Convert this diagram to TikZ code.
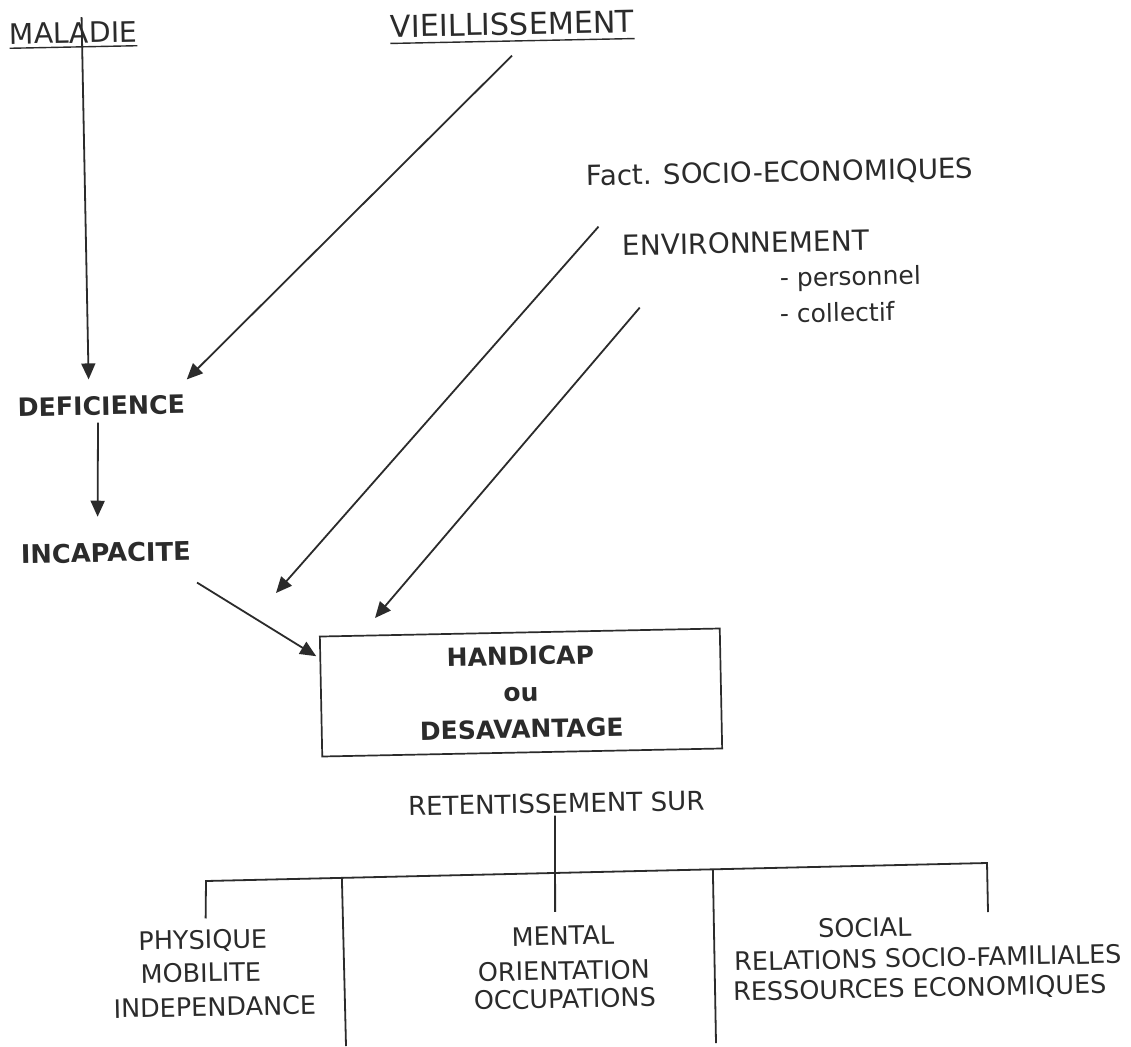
\documentclass[tikz,border=0pt]{standalone}
\usepackage{fontspec}
\setmainfont{DejaVu Sans}
\usetikzlibrary{arrows.meta,calc}
\definecolor{ink}{HTML}{2B2B2B}
\begin{document}
\begin{tikzpicture}[x=1pt,y=-1pt,
  lab/.style={inner sep=0pt, text=ink, rotate=1.15, anchor=base},
  fsz/.style={font=\fontsize{#1}{#1}\selectfont},
  bsz/.style={font=\bfseries\fontsize{#1}{#1}\selectfont},
  arr/.style={draw=ink, line width=1.8pt, -{Triangle[length=16pt,width=14pt]}},
  tree/.style={draw=ink, line width=1.8pt},
  uline/.style={draw=ink, line width=1.4pt},
  framebox/.style={draw=ink, line width=1.7pt, rotate=1.15, inner sep=0pt,
    minimum width=400pt, minimum height=120pt, align=center, text=ink,
    font=\bfseries\fontsize{25}{36.5}\selectfont}]
\fill[white] (0,0) rectangle (1131,1046);
\useasboundingbox (0,0) rectangle (1131,1046);

% top labels
\node[lab, fsz=28.3] (mal) at (73.5,43) {MALADIE};
\node[lab, fsz=30.2] (vie) at (512.5,35) {VIEILLISSEMENT};
\draw[uline] ([shift={(0,4)}]mal.base west) -- ([shift={(0,4)}]mal.base east);
\draw[uline] ([shift={(0,6)}]vie.base west) -- ([shift={(0,6)}]vie.base east);

\node[lab, fsz=27.7] (fact) at (780,182) {Fact. SOCIO-ECONOMIQUES};
\node[lab, fsz=27.9] (env) at (746,253) {ENVIRONNEMENT};
\node[lab, fsz=25, anchor=base west] (pers) at (780,287) {- personnel};
\node[lab, fsz=25, anchor=base west] (coll) at (780,323) {- collectif};

% left chain
\node[lab, bsz=25.3] (def) at (101.5,415) {DEFICIENCE};
\node[lab, bsz=25.7] (inc) at (106,562) {INCAPACITE};

% central box
\node[framebox] (box) at (521,692.5) {HANDICAP\\ou\\DESAVANTAGE};

% free arrow ends
\coordinate (tipA) at (276,593);
\coordinate (tipB) at (375,618);

% arrows
\draw[arr] ([shift={(8.5,-5)}]mal.north) -- ([shift={(-12.5,-16.6)}]def.north);
\draw[arr] ([shift={(-0.5,20)}]vie.south) -- ([shift={(1.8,-14.9)}]def.north east);
\draw[arr] ([shift={(-3.5,7)}]def.south) -- ([shift={(-8,-26)}]inc.north);
\draw[arr] ([shift={(6,21.7)}]inc.south east) -- ([shift={(-2.8,20.5)}]box.north west);
\draw[arr] ([shift={(12,37)}]fact.south west) -- (tipA);
\draw[arr] ([shift={(17,51.5)}]env.south west) -- (tipB);

% retentissement
\node[lab, fsz=26.1] (ret) at (556.5,813) {RETENTISSEMENT SUR};

% bottom columns
\node[lab, fsz=25.5] (p1) at (203,949) {PHYSIQUE};
\node[lab, fsz=25.5] (p2) at (201,982) {MOBILITE};
\node[lab, fsz=25.5] (p3) at (215,1016) {INDEPENDANCE};
\node[lab, fsz=25.5] (m1) at (563,945) {MENTAL};
\node[lab, fsz=25.5] (m2) at (564,980) {ORIENTATION};
\node[lab, fsz=25.5] (m3) at (565,1008) {OCCUPATIONS};
\node[lab, fsz=25.5] (s1) at (865,937) {SOCIAL};
\node[lab, fsz=25.5] (s2) at (928,967) {RELATIONS SOCIO-FAMILIALES};
\node[lab, fsz=25.5] (s3) at (920,997) {RESSOURCES ECONOMIQUES};

% tree
\coordinate (barL) at (206,881);
\coordinate (barR) at (987,863);
\coordinate (rend) at (988,912);
\coordinate (d1t) at ($(barL)!0.174!(barR)$);
\coordinate (d2t) at ($(barL)!0.649!(barR)$);
\coordinate (d1b) at (346,1046);
\coordinate (d2b) at (716,1043);
\draw[tree] ([shift={(-1.5,2)}]ret.south) -- ([shift={(-7.5,-14.4)}]m1.north);
\draw[tree] ([shift={(3,-11.4)}]p1.north) -- (barL) -- (barR) -- (rend);
\draw[tree] (d1t) -- (d1b);
\draw[tree] (d2t) -- (d2b);
\end{tikzpicture}
\end{document}
